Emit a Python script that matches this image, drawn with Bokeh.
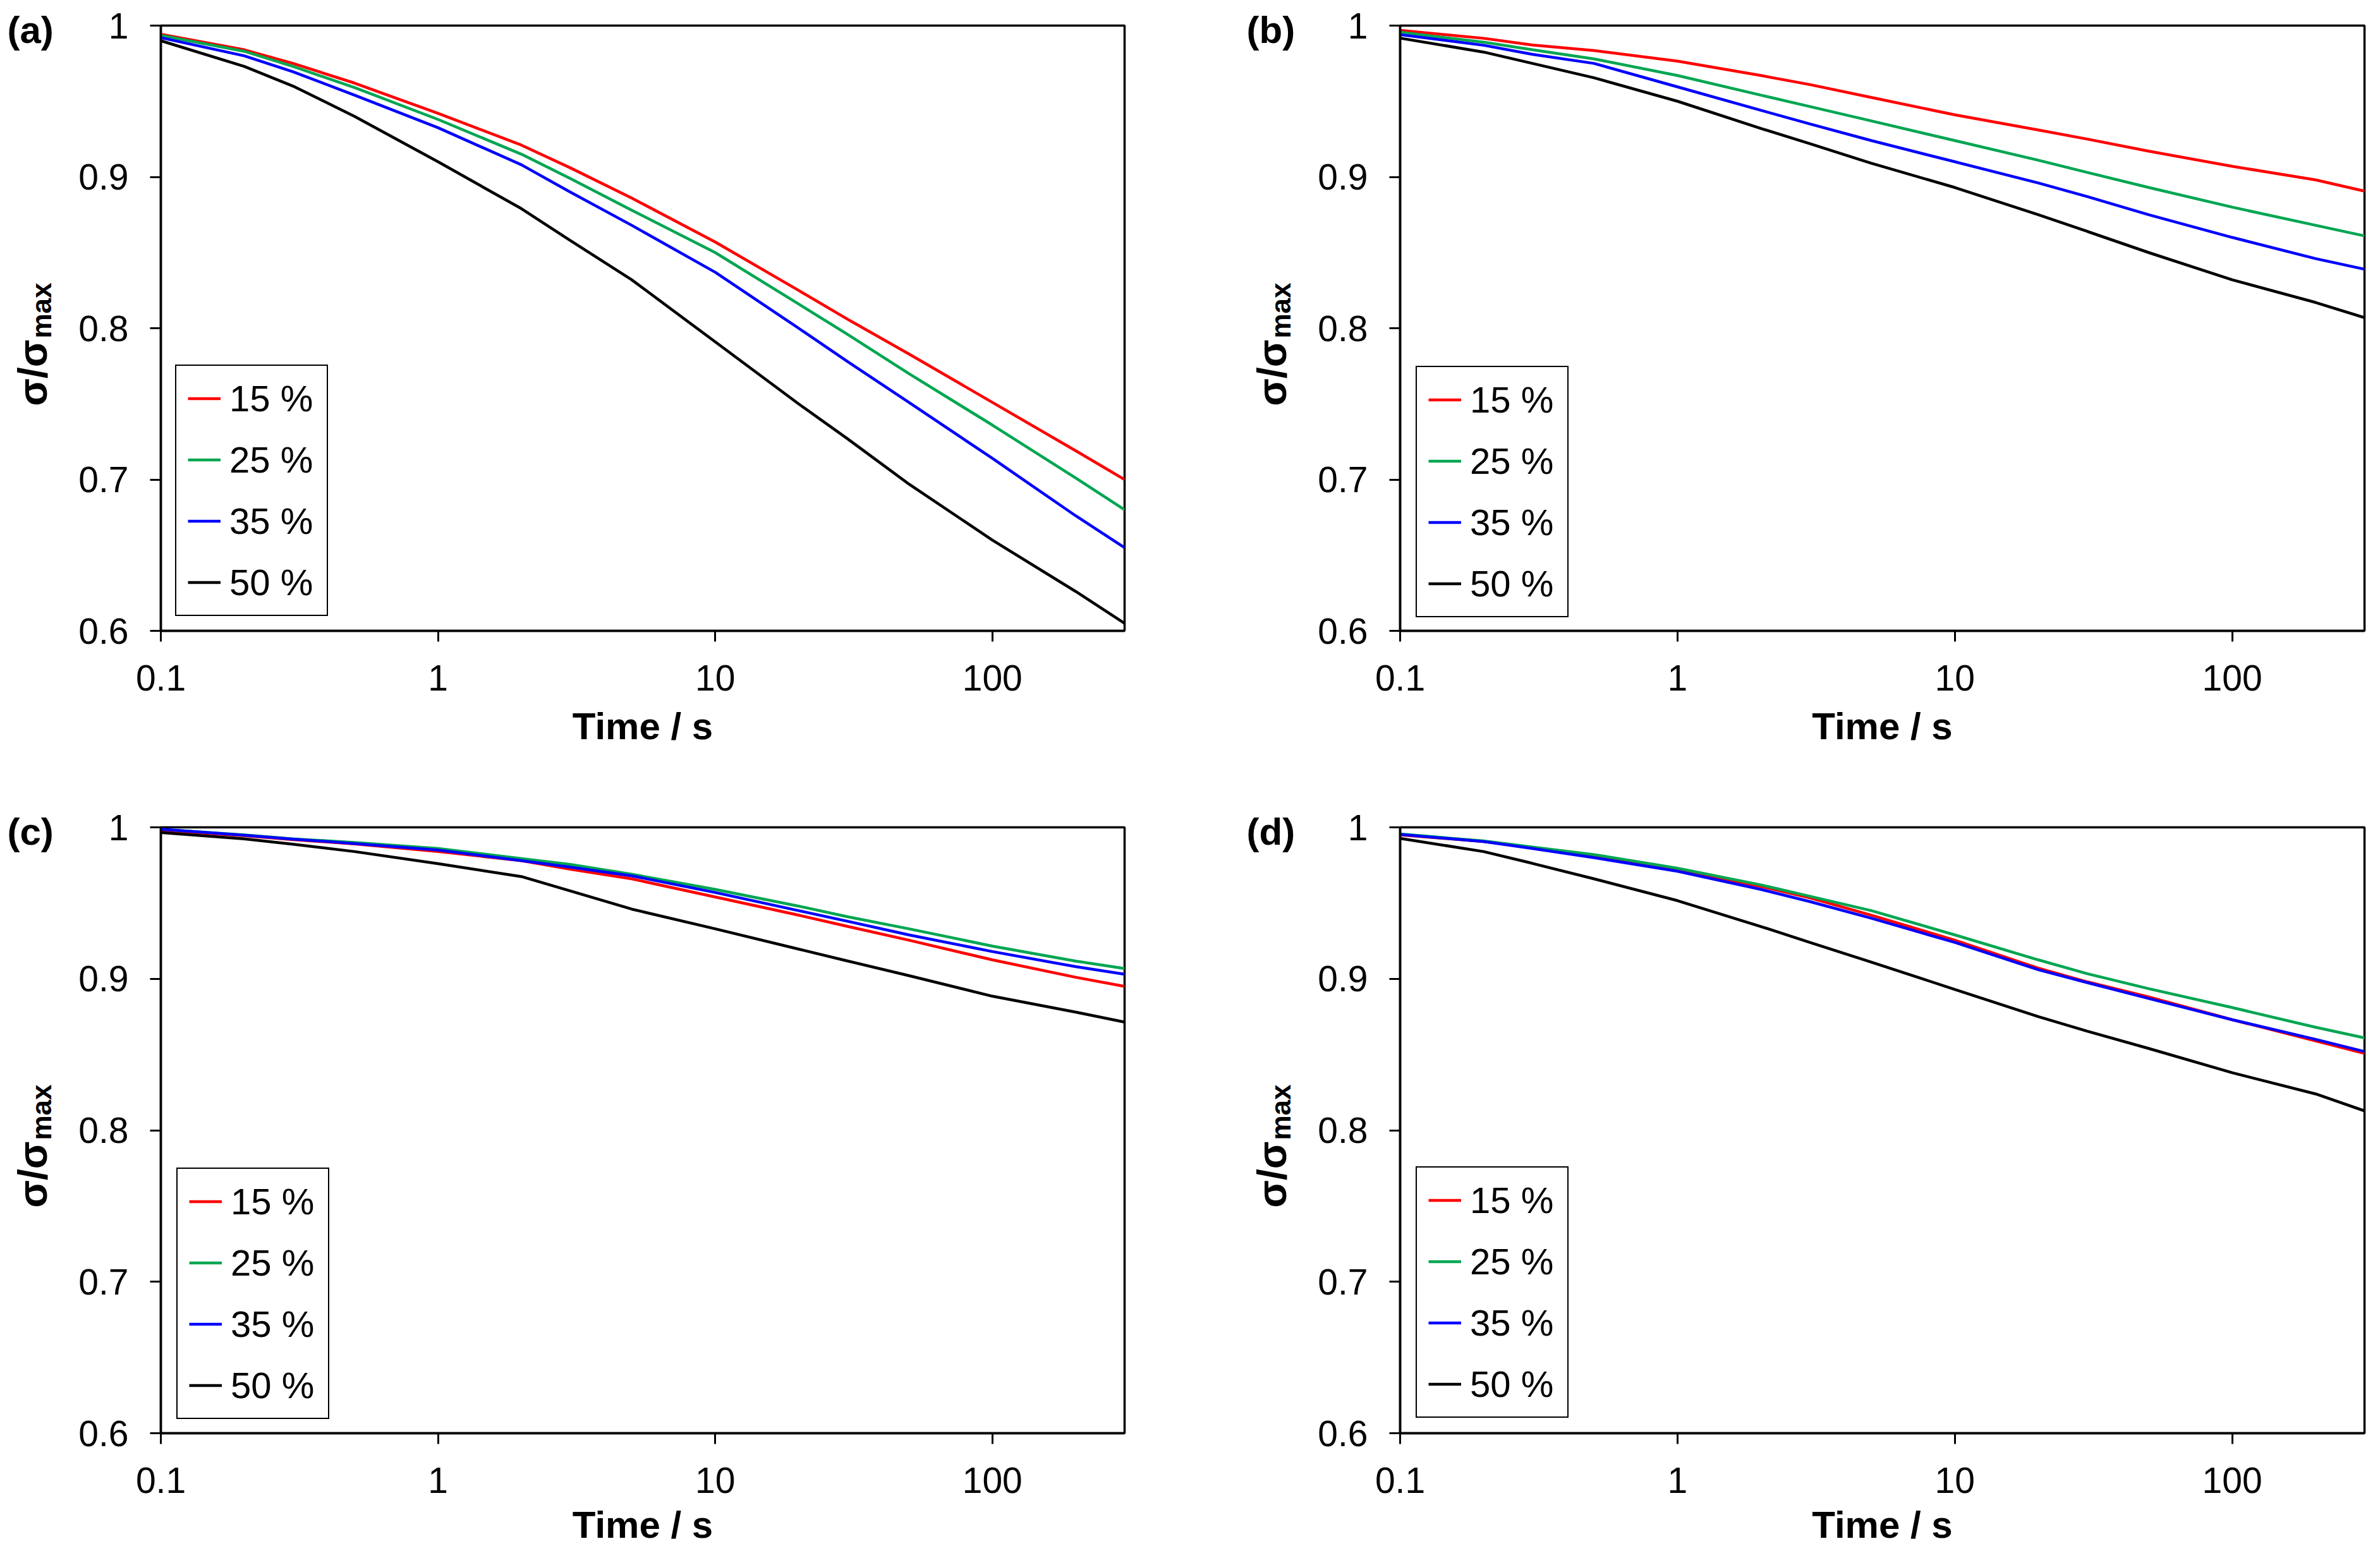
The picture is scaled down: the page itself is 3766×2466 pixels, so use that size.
import math
from bokeh.plotting import figure
from bokeh.models import Label, Legend, LegendItem, FixedTicker, Range1d, CustomJSTickFormatter
from bokeh.layouts import gridplot
from bokeh.embed import file_html
from bokeh.resources import INLINE

# ---------------- data ----------------
time_s = [0.1, 0.2, 0.3, 0.5, 1, 2, 3, 5, 10, 20, 30, 50, 100, 200, 300]
series_labels = ["15 %", "25 %", "35 %", "50 %"]
series_colors = ["#FF0000", "#00A651", "#0000FF", "#000000"]
panel_names = ["(a)", "(b)", "(c)", "(d)"]
x_ticks = [0.1, 1, 10, 100]
y_ticks = [0.6, 0.7, 0.8, 0.9, 1.0]
x_min, x_max = 0.1, 300
y_min, y_max = 0.6, 1.0
x_label = "Time / s"
y_label_main = "σ/σ"
y_label_sub = "max"

a_15 = [0.9943, 0.984, 0.975, 0.962, 0.942, 0.921, 0.906, 0.886, 0.857, 0.825, 0.806, 0.783, 0.751, 0.719, 0.700]
a_25 = [0.9935, 0.983, 0.973, 0.959, 0.938, 0.915, 0.899, 0.878, 0.850, 0.816, 0.796, 0.770, 0.736, 0.701, 0.680]
a_35 = [0.992, 0.980, 0.9695, 0.954, 0.9325, 0.908, 0.890, 0.868, 0.837, 0.800, 0.778, 0.751, 0.714, 0.676, 0.655]
a_50 = [0.990, 0.973, 0.960, 0.940, 0.910, 0.879, 0.858, 0.832, 0.791, 0.750, 0.727, 0.697, 0.660, 0.626, 0.605]

b_15 = [0.9969, 0.9916, 0.9872, 0.9835, 0.9765, 0.967, 0.961, 0.9525, 0.941, 0.931, 0.925, 0.917, 0.907, 0.898, 0.8906]
b_25 = [0.9956, 0.989, 0.984, 0.978, 0.967, 0.954, 0.9465, 0.937, 0.924, 0.911, 0.903, 0.893, 0.880, 0.868, 0.861]
b_35 = [0.994, 0.987, 0.981, 0.975, 0.9595, 0.944, 0.935, 0.924, 0.910, 0.896, 0.887, 0.875, 0.860, 0.846, 0.839]
b_50 = [0.9917, 0.9825, 0.975, 0.9655, 0.950, 0.932, 0.922, 0.909, 0.893, 0.875, 0.864, 0.850, 0.832, 0.817, 0.807]

c_15 = [0.998, 0.9945, 0.9919, 0.989, 0.984, 0.978, 0.9724, 0.966, 0.954, 0.942, 0.9346, 0.9255, 0.9125, 0.901, 0.895]
c_25 = [0.9987, 0.9950, 0.9924, 0.990, 0.986, 0.9794, 0.9755, 0.969, 0.959, 0.948, 0.941, 0.933, 0.9216, 0.9117, 0.9068]
c_35 = [0.9987, 0.9948, 0.9922, 0.9893, 0.985, 0.978, 0.9737, 0.968, 0.957, 0.945, 0.938, 0.929, 0.918, 0.908, 0.903]
c_50 = [0.9966, 0.9924, 0.9888, 0.984, 0.976, 0.9675, 0.958, 0.946, 0.933, 0.9196, 0.9118, 0.9021, 0.8885, 0.878, 0.8714]

d_15 = [0.995, 0.9906, 0.9867, 0.981, 0.972, 0.961, 0.9535, 0.942, 0.9255, 0.907, 0.898, 0.888, 0.873, 0.859, 0.8508]
d_25 = [0.9956, 0.991, 0.987, 0.982, 0.973, 0.962, 0.9545, 0.945, 0.929, 0.9125, 0.9034, 0.8935, 0.881, 0.868, 0.861]
d_35 = [0.9953, 0.9906, 0.986, 0.980, 0.971, 0.959, 0.951, 0.940, 0.924, 0.906, 0.8975, 0.887, 0.873, 0.860, 0.852]
d_50 = [0.9927, 0.984, 0.9762, 0.966, 0.9516, 0.9345, 0.924, 0.911, 0.893, 0.875, 0.8654, 0.854, 0.838, 0.824, 0.8128]

panel_series = [
    [a_15, a_25, a_35, a_50],
    [b_15, b_25, b_35, b_50],
    [c_15, c_25, c_35, c_50],
    [d_15, d_25, d_35, d_50],
]

# ---------------- style / layout ----------------
FONT = "Liberation Sans"
COL_W = 1875
ROW_H = [1222, 1226]
BORDER_TB = [(40, 224), (87, 180)]
BORDER_LR = [(252, 96), (340, 9)]
XLABEL_DY = [-151, -145]
LEGEND_POS = [(23, 23), (25, 21), (25, 22), (25, 24)]

fmt_code = """
if (Math.abs(tick - Math.round(tick)) < 1e-9) { return Math.round(tick).toString(); }
return tick.toFixed(1);
"""


def make_panel(idx):
    r, c = divmod(idx, 2)
    top, bottom = BORDER_TB[r]
    left, right = BORDER_LR[c]
    H = ROW_H[r]
    p = figure(width=COL_W, height=H, x_axis_type="log",
               x_range=Range1d(x_min, x_max), y_range=Range1d(y_min, y_max),
               output_backend="svg", toolbar_location=None,
               min_border_left=left, min_border_right=right,
               min_border_top=top, min_border_bottom=bottom)
    p.grid.visible = False
    p.background_fill_color = "white"
    p.border_fill_color = "white"
    p.outline_line_color = "black"
    p.outline_line_width = 3.5
    p.outline_line_alpha = 1.0

    renderers = []
    for vals, col in zip(panel_series[idx], series_colors):
        rr = p.line(time_s, vals, line_color=col, line_width=4.5)
        renderers.append(rr)

    p.xaxis.ticker = FixedTicker(ticks=x_ticks, minor_ticks=[])
    p.yaxis.ticker = FixedTicker(ticks=y_ticks, minor_ticks=[])
    for ax in (p.xaxis[0], p.yaxis[0]):
        ax.formatter = CustomJSTickFormatter(code=fmt_code)
        ax.major_tick_in = 0
        ax.major_tick_out = 17
        ax.minor_tick_in = 0
        ax.minor_tick_out = 0
        ax.major_tick_line_width = 3
        ax.major_tick_line_color = "black"
        ax.axis_line_width = 3.5
        ax.axis_line_color = "black"
        ax.major_label_text_font = FONT
        ax.major_label_text_font_size = "57px"
        ax.major_label_text_color = "black"
    p.xaxis.major_label_standoff = 37
    p.yaxis.major_label_standoff = 34

    # texts outside the frame: anchored at frame corners (data units) + pixel offsets,
    # placed in side panels that have spare room so they are not clipped
    def add_text(side, x, y, dx, dy, text, size, angle=0.0, align="left"):
        p.add_layout(Label(x=x, y=y, x_units="data", y_units="data",
                           x_offset=dx, y_offset=dy,
                           text=text, angle=angle, text_font=FONT,
                           text_font_style="bold",
                           text_font_size=size, text_color="black",
                           text_align=align, text_baseline="alphabetic"), side)

    x_mid = 10 ** ((math.log10(x_min) + math.log10(x_max)) / 2)
    # y axis title sigma/sigma_max
    add_text("left", x_min, y_max, -189, -495, y_label_sub, "44px", angle=math.pi / 2, align="left")
    add_text("left", x_min, y_max, -203, -497, y_label_main, "64px", angle=math.pi / 2, align="right")
    # panel letter
    add_text("right" if c == 0 else "left", x_min, y_max, -243, -7, panel_names[idx], "60px")
    # x axis title
    add_text("below" if r == 0 else "above", x_mid, y_min, 0, XLABEL_DY[r], x_label, "60px", align="center")

    items = [LegendItem(label=lab, renderers=[rr]) for lab, rr in zip(series_labels, renderers)]
    leg = Legend(items=items, location=LEGEND_POS[idx], margin=0, padding=18,
                 spacing=30, glyph_width=52, glyph_height=63, label_standoff=14,
                 label_width=136, label_height=63,
                 label_text_font=FONT, label_text_font_size="58px",
                 label_text_color="black", label_text_baseline="middle",
                 border_line_color="black", border_line_width=2.5, border_line_alpha=1.0,
                 background_fill_color="white", background_fill_alpha=1.0)
    p.add_layout(leg)
    return p


panels = [make_panel(i) for i in range(4)]
grid = gridplot([[panels[0], panels[1]], [panels[2], panels[3]]], toolbar_location=None)

open("out.html", "w").write(file_html(grid, INLINE))
